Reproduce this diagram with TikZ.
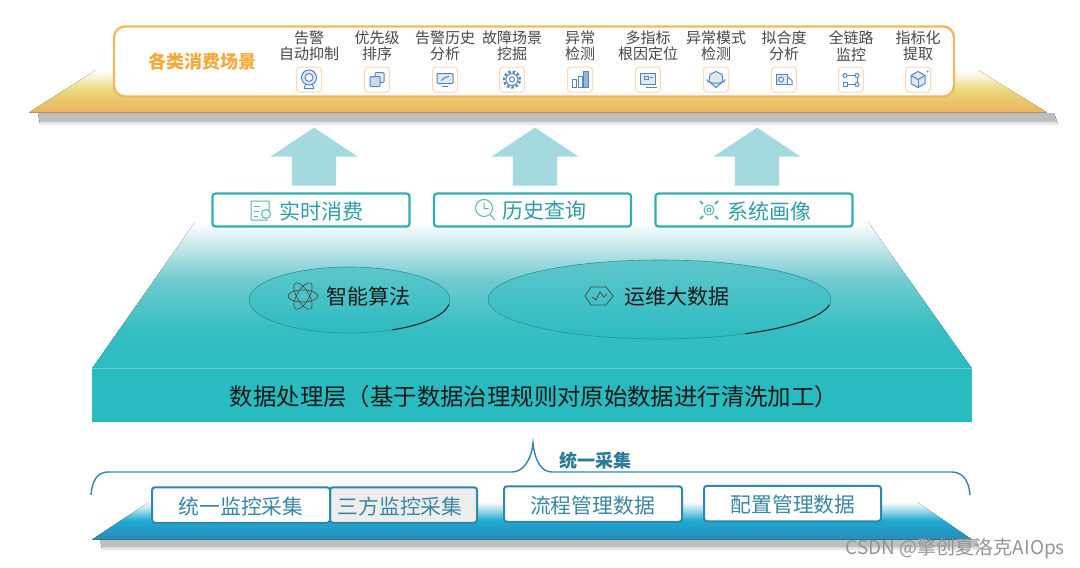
\documentclass[tikz,border=0pt]{standalone}
\usepackage{fontspec}
\setmainfont{Noto Sans CJK SC}
\usetikzlibrary{arrows.meta,positioning,calc,shapes.geometric,shapes.arrows}
\definecolor{clrGold}{RGB}{240,184,96}
\definecolor{clrGoldT}{RGB}{245,169,58}
\definecolor{clrTeal}{RGB}{48,174,176}
\definecolor{clrTealT}{RGB}{47,158,165}
\definecolor{clrBlue}{RGB}{48,136,168}
\definecolor{clrBlueT}{RGB}{58,135,165}
\definecolor{clrFront}{RGB}{40,187,192}
\definecolor{clrArrow}{RGB}{164,218,223}
\definecolor{clrIcon}{RGB}{84,134,190}
\definecolor{clrIconB}{RGB}{249,216,190}
\definecolor{clrShade}{RGB}{190,190,192}
\definecolor{gA}{RGB}{236,178,94}
\definecolor{gB}{RGB}{232,216,120}
\definecolor{gC}{RGB}{245,238,196}
\definecolor{tA}{RGB}{43,188,193}
\definecolor{tB}{RGB}{52,190,194}
\definecolor{tC}{RGB}{111,203,207}
\definecolor{tD}{RGB}{192,229,232}
\definecolor{bA}{RGB}{42,140,182}
\definecolor{bB}{RGB}{28,169,210}
\definecolor{bC}{RGB}{160,218,234}
\pgfdeclareverticalshading{shGold}{100bp}{color(0bp)=(gA);color(25bp)=(gA);color(51bp)=(gB);color(64bp)=(gC);color(75bp)=(white);color(100bp)=(white)}
\pgfdeclareverticalshading{shTeal}{100bp}{color(0bp)=(tA);color(25bp)=(tA);color(38bp)=(tB);color(55bp)=(tC);color(66bp)=(tD);color(75bp)=(white);color(100bp)=(white)}
\pgfdeclareverticalshading{shBlue}{100bp}{color(0bp)=(bA);color(25bp)=(bA);color(50bp)=(bB);color(64bp)=(bC);color(75bp)=(white);color(100bp)=(white)}
\pgfdeclareverticalshading{shShade}{100bp}{color(0bp)=(white);color(25bp)=(white);color(42bp)=(clrShade);color(100bp)=(clrShade)}
\tikzset{
  plateshadow/.style={shading=shShade},
  scene/.style={font=\fontsize{15}{16.5}\selectfont,text=black!72,align=center,inner sep=0pt},
  iconbox/.style={rectangle,rounded corners=3.5pt,draw=clrIconB,fill=white,line width=1pt,
    minimum width=25pt,minimum height=25pt,inner sep=0pt},
  icon/.style={draw=clrIcon,line width=1pt,fill=clrIcon!18},
  iconline/.style={draw=clrIcon,line width=1pt},
  feedbox/.style={rectangle,rounded corners=3pt,draw=clrTeal,fill=white,line width=2.2pt,
    minimum width=197pt,minimum height=33pt,inner sep=0pt},
  feedtext/.style={font=\fontsize{21}{24}\selectfont,text=clrTealT,inner sep=0pt},
  feedicon/.style={draw=clrTealT!80,line width=1pt},
  upblock/.style={single arrow,rotate=90,fill=clrArrow,inner xsep=0pt,inner ysep=22pt,minimum height=58pt,
    single arrow head extend=21.5pt,single arrow tip angle=112.6,single arrow head indent=0pt},
  disc/.style={ellipse,draw=clrTeal!85!black,line width=.6pt,top color=tC!70!tB,bottom color=tA,inner sep=0pt},
  disctext/.style={font=\fontsize{21}{24}\selectfont,text=black!90,inner sep=0pt},
  srcbox/.style={rectangle,rounded corners=3pt,draw=clrBlue,fill=white,line width=2pt,
    minimum height=35.5pt,inner sep=0pt},
  srctext/.style={font=\fontsize{20.8}{24}\selectfont,text=clrBlueT,inner sep=0pt}
}
\def\glyphHead{\draw[iconline] (-5,9)--(-3,4) (5,9)--(3,4) (-5,9)--(5,9);
  \draw[icon] (0,-2) circle (7.5pt); \draw[iconline,fill=white] (0,-2) circle (4pt);}
\def\glyphStack{\draw[icon,rounded corners=1pt] (-2,-7) rectangle (7,3); \draw[icon,fill=clrIcon!30,rounded corners=1pt] (-7,-3) rectangle (3,7);}
\def\glyphScreen{\draw[icon,rounded corners=1pt] (-8,-6) rectangle (8,4); \draw[iconline] (-3,7)--(3,7); \draw[iconline] (-4,1)--(0,-2)--(4,-3);}
\def\glyphGear{\draw[iconline,line width=2.2pt,dash pattern=on 2.6pt off 2pt] (0,0) circle (8pt); \draw[iconline] (0,0) circle (6pt); \draw[iconline] (0,0) circle (2.5pt);}
\def\glyphBars{\draw[iconline] (-8,0) rectangle (-4,8); \draw[iconline] (-2,-3) rectangle (2,8); \draw[icon,fill=clrIcon!60] (3,-8) rectangle (8,8);}
\def\glyphBoard{\draw[icon] (-8,-6) rectangle (7,5); \draw[iconline] (-4,-3) rectangle (0,0); \draw[iconline] (2,-2)--(5,-2); \draw[iconline] (-2,7.5)--(9,7.5);}
\def\glyphFace{\draw[icon] (-6,-5)--(0,-8)--(6,-5)--(7,2)--(0,8)--(-7,2)--cycle; \draw[iconline] (-9,0) .. controls (-9,5) and (9,5) .. (9,0);}
\def\glyphTruck{\draw[icon] (-8,-5) rectangle (3,5); \draw[iconline] (3,-3)--(8,1)--(8,5)--(3,5); \draw[iconline,fill=white] (-3,0) circle (2.5pt);}
\def\glyphRoute{\draw[iconline] (-6,-4) circle (2pt); \draw[iconline] (6,-4) circle (2pt); \draw[iconline] (-8,3) rectangle (-4,7); \draw[iconline] (6,5) circle (2pt);
  \draw[iconline] (-4,-4)--(4,-4) (6,-2)--(6,3) (-4,5)--(4,5);}
\def\glyphCube{\draw[icon] (0,-8)--(7,-4)--(7,4)--(0,8)--(-7,4)--(-7,-4)--cycle; \draw[iconline] (-7,-4)--(0,0)--(7,-4); \draw[iconline] (0,0)--(0,8); \fill[clrIcon] (9.5,-8) circle (1pt);}
\begin{document}
\begin{tikzpicture}[x=1pt,y=-1pt]
  \useasboundingbox (0,0) rectangle (1080,568);
  \fill[white] (0,0) rectangle (1080,568);

  \fill[plateshadow] (38,113) -- (1054,113) -- (1058,124) -- (40,124) -- cycle;
  \fill[shading=shGold] (29,112.5) -- (96,70) -- (978,70) -- (1047,112.5) -- cycle;
  \node[rectangle,rounded corners=11pt,draw=clrGold,fill=white,line width=2.4pt,minimum width=840pt,minimum height=70pt] (card) at (534,61.5) {};
  \node[font=\fontsize{18}{20}\bfseries,text=clrGoldT,inner sep=0pt] (cardtitle) at (202,62) {各类消费场景};
  \foreach \cx/\lab/\glyph [count=\n] in {
    309/{告警\\自动抑制}/\glyphHead,377/{优先级\\排序}/\glyphStack,445/{告警历史\\分析}/\glyphScreen,
    512/{故障场景\\挖掘}/\glyphGear,580/{异常\\检测}/\glyphBars,648/{多指标\\根因定位}/\glyphBoard,
    716/{异常模式\\检测}/\glyphFace,784/{拟合度\\分析}/\glyphTruck,851/{全链路\\监控}/\glyphRoute,918/{指标化\\提取}/\glyphCube}{
    \node[scene] (scene\n) at (\cx,46) {\lab};
    \node[iconbox] (ibox\n) at (\cx,79.5) {};
    \begin{scope}[shift={(ibox\n.center)}]
      \glyph
    \end{scope}
  }

  \foreach \ax [count=\n] in {314,535,757}
    \node[upblock] (up\n) at (\ax,164) {};

  \fill[shading=shTeal] (92,368.5) -- (195,222) -- (868,222) -- (972,368.5) -- cycle;
  \fill[clrFront] (92,368) rectangle (972,422);
  \draw[tC,line width=.7pt] (92,368) -- (972,368);
  \node[feedbox] (live) at (311,210) {};
  \node[feedbox] (hist) at (532.5,210) {};
  \node[feedbox] (prof) at (754,210) {};
  \node[feedtext] (livetext) at (321.5,211) {实时消费};
  \node[feedtext] (histtext) at (544.5,211) {历史查询};
  \node[feedtext] (proftext) at (769.5,211) {系统画像};
  \draw[feedicon,rounded corners=.5pt] (268,220) -- (251,220) -- (251,201) -- (269,201) -- (269,210);
  \draw[feedicon] (254,206) -- (260,206) (254,211) -- (259,211) (254,216) -- (258,216);
  \draw[feedicon] (266,214) circle (4.5pt);
  \draw[feedicon] (484,208) circle (8.5pt);
  \draw[feedicon] (484,203) -- (484,208.5) -- (488.5,208.5) (490,214.5) -- (495,220);
  \draw[feedicon] (709,210) circle (2pt) (709,210) circle (5pt);
  \draw[feedicon,line width=1.8pt] (700,201) -- (703,204) (718,201) -- (715,204) (700,219) -- (703,216) (718,219) -- (715,216);

  \node[disc,minimum width=201pt,minimum height=66pt] (algo) at (349.5,300) {};
  \node[disc,minimum width=343pt,minimum height=79pt] (bigdata) at (659.5,299.5) {};
  \draw[black!85,line width=1.1pt] (algo.center) ++(8:100.5 and 33) arc[start angle=8,end angle=65,x radius=100.5,y radius=33];
  \draw[black!85,line width=1.1pt] (bigdata.center) ++(8:171.5 and 39.5) arc[start angle=8,end angle=60,x radius=171.5,y radius=39.5];
  \node[disctext] (algotext) at (368.5,296.5) {智能算法};
  \node[disctext] (datatext) at (677,296.5) {运维大数据};
  \draw[black!70,line width=.7pt] (303,296) ellipse (15pt and 6pt);
  \draw[black!70,line width=.7pt,rotate around={60:(303,296)}] (303,296) ellipse (15pt and 6pt);
  \draw[black!70,line width=.7pt,rotate around={-60:(303,296)}] (303,296) ellipse (15pt and 6pt);
  \draw[black!70,line width=.8pt] (585,296) -- (591,287) -- (606,287) -- (613,296) -- (606,305) -- (591,305) -- cycle;
  \draw[black!70,line width=.8pt] (592,297) -- (596,300) -- (600,292) -- (604,297) -- (607,294);
  \node[font=\fontsize{23.4}{26}\selectfont,text=black!90,inner sep=0pt] (clean) at (534,396.5) {数据处理层（基于数据治理规则对原始数据进行清洗加工）};

  \coordinate (brL) at (91,495);
  \coordinate (brR) at (970,495);
  \coordinate (brTip) at (533,443);
  \draw[clrBlue,line width=1.4pt] (brL) .. controls (92,480) and (98,472) .. (108,472) -- (512,472)
    .. controls (522,472) and (531,462) .. (brTip) .. controls (535,462) and (542,472) .. (552,472) -- (952,472)
    .. controls (962,472) and (969,480) .. (brR);
  \node[font=\fontsize{18}{20}\bfseries,text=clrBlue!90!black,inner sep=0pt] (unified) at (595,460.5) {统一采集};

  \fill[plateshadow] (100,539.5) -- (976,539.5) -- (980,549) -- (102,549) -- cycle;
  \fill[shading=shBlue] (92,539.5) -- (149,502) -- (917,502) -- (972,539.5) -- cycle;
  \node[srcbox,minimum width=147pt,fill=black!7] (third) at (403.5,505) {};
  \node[srcbox,minimum width=178pt] (unimon) at (241,505) {};
  \node[srcbox,minimum width=178pt] (flow) at (593,504) {};
  \node[srcbox,minimum width=177pt] (conf) at (792.5,503.5) {};
  \node[srctext] (unimontext) at (241,507) {统一监控采集};
  \node[srctext] (thirdtext) at (400,507) {三方监控采集};
  \node[srctext] (flowtext) at (592.5,506) {流程管理数据};
  \node[srctext] (conftext) at (793,505) {配置管理数据};

  \node[font=\fontsize{19}{21}\selectfont,text=black!42,inner sep=0pt,anchor=east] (mark) at (1065,549) {CSDN @擎创夏洛克AIOps};
\end{tikzpicture}
\end{document}
